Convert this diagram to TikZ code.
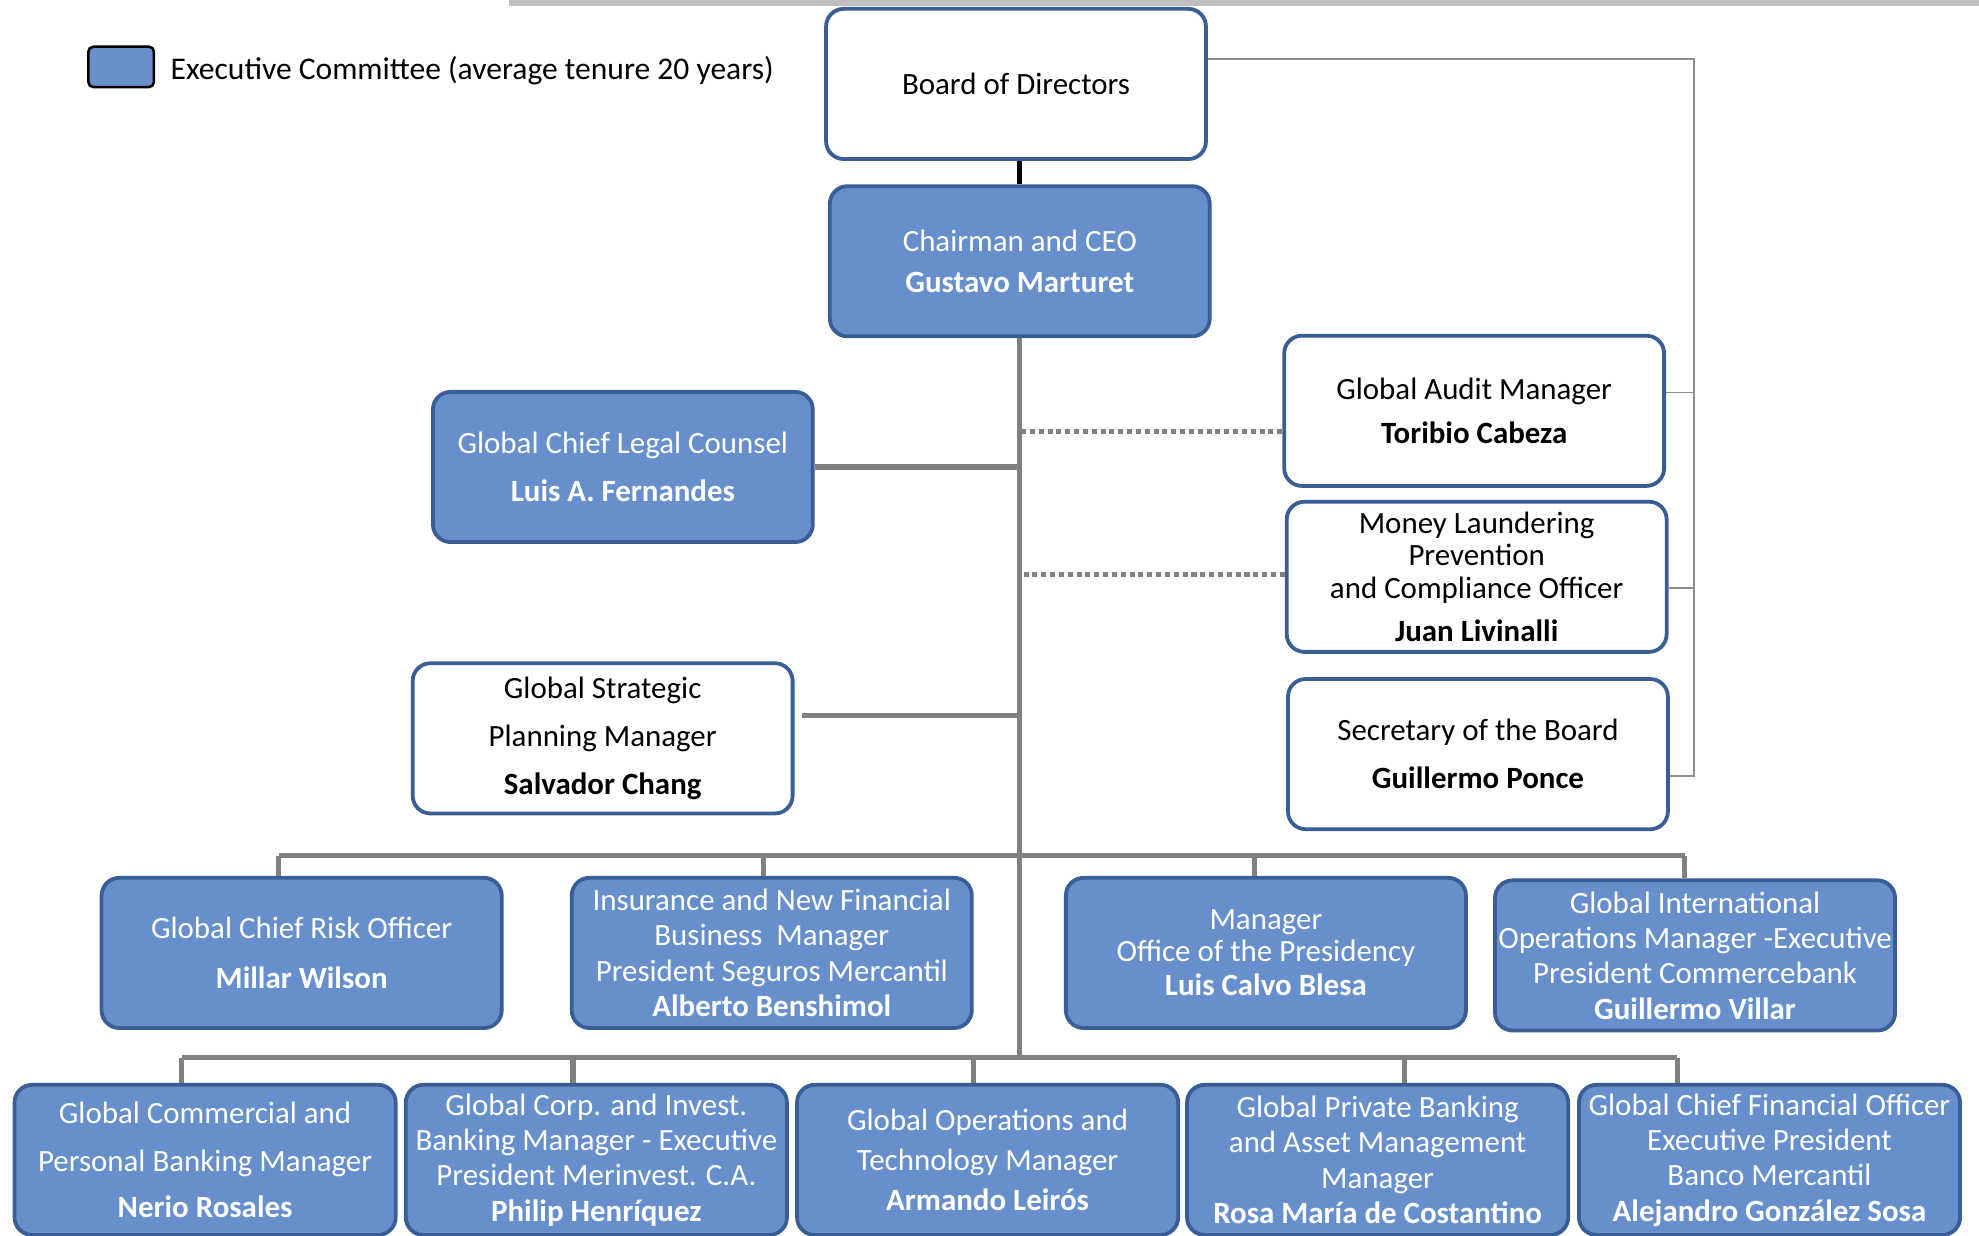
\documentclass[tikz,border=0pt]{standalone}
\usepackage{fontspec}
\setmainfont{Carlito}
\usetikzlibrary{positioning}

\definecolor{execblue}{RGB}{102,143,204}
\definecolor{boxline}{RGB}{57,94,150}
\definecolor{linkgray}{RGB}{128,128,128}
\definecolor{bargray}{RGB}{191,191,191}

\tikzset{
  box/.style={draw=boxline, line width=3pt, rounded corners=14pt,
    minimum width=301pt, minimum height=119pt, align=center, inner sep=1pt,
    font=\fontsize{24.5}{28}\selectfont},
  exec/.style={box, fill=execblue, text=white},
  plain/.style={box, fill=white, text=black},
  wide/.style={minimum width=317pt},
  link/.style={draw=linkgray, line width=4pt},
  dotlink/.style={draw=linkgray, line width=4pt, dash pattern=on 4pt off 3pt},
  railline/.style={draw=linkgray!90, line width=1.5pt}
}

\begin{document}
\begin{tikzpicture}[x=1pt,y=-1pt]

\def\trunkx{808}
  \def\busA{678}
  \def\busB{838}
  \def\railx{1342}

\useasboundingbox (0,0) rectangle (1568,979);
\fill[bargray] (403,0) rectangle (1568,5);

% legend
\node[draw=black, fill=execblue, line width=2pt, rounded corners=4pt,
      minimum width=52pt, minimum height=32pt] (legkey) at (96,53) {};
\node[right=12pt of legkey, yshift=-3pt, inner sep=0pt, font=\fontsize{25}{28}\selectfont] (legtext)
      {Executive Committee (average tenure 20 years)};

% top of the chart
\node[plain] (board) at (805,66.5) {Board of Directors};
\node[exec] (ceo) at (808,207) {Chairman and CEO\\[5pt]\textbf{Gustavo Marturet}};

% staff units
\node[exec] (legal) at (493.5,370) {Global Chief Legal Counsel\\[10pt]\textbf{Luis A. Fernandes}};
\node[plain] (plan) at (477.5,585) {Global Strategic\\[10pt]Planning Manager\\[10pt]\textbf{Salvador Chang}};
\node[plain] (audit) at (1168,325.5) {Global Audit Manager\\[7pt]\textbf{Toribio Cabeza}};
\node[plain] (aml) at (1170,457) {Money Laundering\\[-2.5pt]Prevention\\[-2.5pt]and Compliance Officer\\[6pt]\textbf{Juan Livinalli}};
\node[plain] (sec) at (1171,597.5) {Secretary of the Board\\[10pt]\textbf{Guillermo Ponce}};

% first line of reports
\node[exec, wide] (risk) at (239,755) {Global Chief Risk Officer\\[11pt]\textbf{Millar Wilson}};
\node[exec, wide] (insur) at (611.5,755) {Insurance and New Financial\\Business\ \ Manager\\President Seguros Mercantil\\\textbf{Alberto Benshimol}};
\node[exec, wide] (pres) at (1003,755) {Manager\\[-3pt]Office of the Presidency\\[-1pt]\textbf{Luis Calvo Blesa}};
\node[exec, wide] (intl) at (1343,757) {Global International\\Operations Manager -Executive\\President Commercebank\\\textbf{Guillermo Villar}};

% second line of reports
\node[exec, minimum width=302pt] (comm) at (162.5,919) {Global Commercial and\\[10pt]Personal Banking Manager\\[8pt]\textbf{Nerio Rosales}};
\node[exec, minimum width=302pt] (corp) at (472.5,919) {Global Corp. and Invest.\\Banking Manager - Executive\\President Merinvest. C.A.\\\textbf{Philip Henríquez}};
\node[exec, minimum width=302pt] (ops) at (782.5,919) {Global Operations and\\[4pt]Technology Manager\\[4pt]\textbf{Armando Leirós}};
\node[exec, minimum width=302pt] (priv) at (1091.5,919) {Global Private Banking\\and Asset Management\\Manager\\\textbf{Rosa María de Costantino}};
\node[exec, minimum width=302pt] (cfo) at (1402,919) {Global Chief Financial Officer\\Executive President\\Banco Mercantil\\\textbf{Alejandro González Sosa}};

\coordinate (trunkA) at (\trunkx,\busA);
\coordinate (trunkB) at (\trunkx,\busB);
\coordinate (rail) at (\railx,0);

% lines
\draw[black, line width=4pt] (ceo.north |- board.south) -- (ceo.north);
\draw[link] (ceo.south -| trunkB) -- (trunkB);
\draw[link] (legal.east) -- (legal.east -| trunkA);
\draw[link] ([xshift=6pt,yshift=18pt]plan.east) -- ([yshift=18pt]plan.east -| trunkA);
\draw[dotlink] ([yshift=-16.5pt]audit.west) -- ([yshift=-16.5pt]audit.west -| trunkA);
\draw[dotlink] ([yshift=2pt]aml.west) -- ([yshift=2pt]aml.west -| trunkA);

% bus to first line
\draw[link] ([xshift=-18pt]risk.north |- trunkA) -- ([xshift=-8pt]intl.north |- trunkA);
\foreach \b/\dx in {risk/-18, insur/-6.5, pres/-9, intl/-8}
  \draw[link] ([xshift=\dx pt]\b.north) -- ([xshift=\dx pt]\b.north |- trunkA);

% bus to second line
\draw[link] ([xshift=-18.5pt]comm.north |- trunkB) -- ([xshift=-73pt]cfo.north |- trunkB);
\foreach \b/\dx in {comm/-18.5, corp/-18.5, ops/-11.5, priv/21.5, cfo/-73}
  \draw[link] ([xshift=\dx pt]\b.north) -- ([xshift=\dx pt]\b.north |- trunkB);

% board rail
\draw[railline] ([yshift=19.5pt]board.east) -| ([yshift=-17.5pt]sec.east -| rail) -- ([yshift=-17.5pt]sec.east);
\draw[railline] ([yshift=14.5pt]audit.east) -- ([yshift=14.5pt]audit.east -| rail);
\draw[railline] ([yshift=-9pt]aml.east) -- ([yshift=-9pt]aml.east -| rail);
\end{tikzpicture}
\end{document}
